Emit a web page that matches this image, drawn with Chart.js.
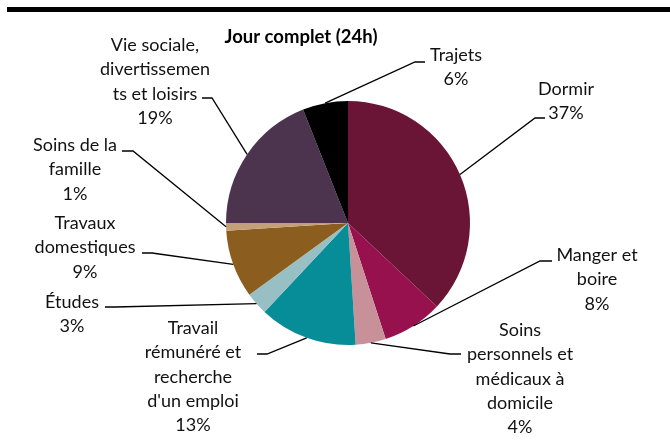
<!DOCTYPE html>
<html>
<head>
<meta charset="utf-8">
<script src="https://cdn.jsdelivr.net/npm/chart.js@4"></script>
<style>
  html, body { margin: 0; padding: 0; background: #fff; }
  #wrap { position: relative; width: 670px; height: 447px; }
  #topbar { position: absolute; left: 7px; top: 7px; width: 663px; height: 5px; background: #000; }
</style>
</head>
<body>
<div id="wrap">
  <div id="topbar"></div>
  <canvas id="pie-chart" width="670" height="447"></canvas>
</div>
<script>
// données
const categories = [
  "Dormir",
  "Manger et boire",
  "Soins personnels et médicaux à domicile",
  "Travail rémunéré et recherche d'un emploi",
  "Études",
  "Travaux domestiques",
  "Soins de la famille",
  "Vie sociale, divertissements et loisirs",
  "Trajets",
];
const values = [37, 8, 4, 13, 3, 9, 1, 19, 6];
// libellés affichés (coupés comme dans l'original)
const labelLines = [
  ["Dormir"],
  ["Manger et", "boire"],
  ["Soins", "personnels et", "médicaux à", "domicile"],
  ["Travail", "rémunéré et", "recherche", "d'un emploi"],
  ["Études"],
  ["Travaux", "domestiques"],
  ["Soins de la", "famille"],
  ["Vie sociale,", "divertissemen", "ts et loisirs"],
  ["Trajets"],
];
const colors = ["#6a1535", "#97114f", "#c8919a", "#078d97", "#98bfc3", "#8b5d1f", "#c4a07a", "#4c344e", "#000000"];

// placement des étiquettes : centre du texte, 1re ligne, et trait horizontal
const labelLayout = [
  { cx: 566, y0: 89, elbow: [535, 118], end: [545, 118] },
  { cx: 597, y0: 255, elbow: [540, 261], end: [552, 261] },
  { cx: 520, y0: 330, elbow: [450, 354], end: [461, 354] },
  { cx: 193, y0: 328, elbow: [267, 354], end: [257, 354] },
  { cx: 72, y0: 302, elbow: [115, 307], end: [105, 307] },
  { cx: 85, y0: 223, elbow: [152, 253], end: [142, 253] },
  { cx: 75, y0: 145, elbow: [133, 151], end: [122, 151] },
  { cx: 155, y0: 45, elbow: [212, 98], end: [202, 98] },
  { cx: 456, y0: 55, elbow: [415, 62], end: [425, 62] },
];
const lineHeight = 24.4;

// dessine titre + étiquettes avec traits de rappel
const labelPlugin = {
  id: "labelPlugin",
  afterDraw(chart) {
    const ctx = chart.ctx;
    const meta = chart.getDatasetMeta(0);
    ctx.save();
    ctx.fillStyle = "#000";
    ctx.font = "bold 18.5px Lato";
    ctx.textAlign = "center";
    ctx.textBaseline = "middle";
    ctx.fillText("Jour complet (24h)", 301, 37);

    ctx.font = "18px Lato";
    ctx.fillStyle = "#111";
    ctx.strokeStyle = "#000";
    ctx.lineWidth = 1.3;
    meta.data.forEach((arc, i) => {
      const lay = labelLayout[i];
      const mid = (arc.startAngle + arc.endAngle) / 2;
      const ax = arc.x + Math.cos(mid) * arc.outerRadius;
      const ay = arc.y + Math.sin(mid) * arc.outerRadius;
      ctx.beginPath();
      ctx.moveTo(ax, ay);
      ctx.lineTo(lay.elbow[0], lay.elbow[1]);
      ctx.lineTo(lay.end[0], lay.end[1]);
      ctx.stroke();

      const lines = labelLines[i].concat([values[i] + "%"]);
      lines.forEach((txt, k) => {
        ctx.fillText(txt, lay.cx, lay.y0 + k * lineHeight);
      });
    });
    ctx.restore();
  },
};

new Chart(document.getElementById("pie-chart"), {
  type: "pie",
  data: {
    labels: categories,
    datasets: [
      {
        data: values,
        backgroundColor: colors,
        borderWidth: 0,
      },
    ],
  },
  options: {
    responsive: false,
    animation: false,
    layout: { padding: { left: 226, right: 200, top: 101, bottom: 102 } },
    plugins: {
      legend: { display: false },
      tooltip: { enabled: false },
    },
  },
  plugins: [labelPlugin],
});
</script>
</body>
</html>
